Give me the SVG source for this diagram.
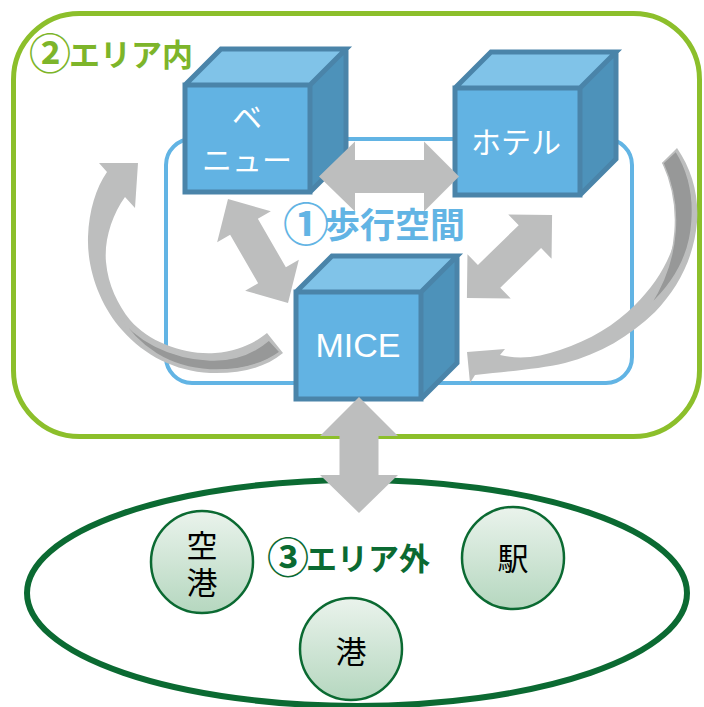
<svg xmlns="http://www.w3.org/2000/svg" width="704" height="707" viewBox="0 0 704 707">
  <style>
    .jp { font-family: "Noto Sans CJK JP", "Noto Sans", sans-serif; }
    .area-in { fill: #7DB52A; font-size: 31px; font-weight: bold; }
    .walk { fill: #62B4E4; font-size: 35px; font-weight: bold; }
    .area-out { fill: #0B6A32; font-size: 31px; font-weight: bold; }
    .box-label { fill: #FFFFFF; font-size: 30px; text-anchor: middle; }
    .mice { fill: #FFFFFF; font-family: "Liberation Sans", Arial, sans-serif; font-size: 34px; text-anchor: middle; }
    .place { fill: #000000; font-size: 31px; text-anchor: middle; }
    .place-vertical { fill: #000000; font-size: 31px; writing-mode: vertical-rl; letter-spacing: 6px; }
    .cube-front { fill: #62B3E3; }
    .cube-top { fill: #80C3E8; }
    .cube-side { fill: #4D92BA; }
    .cube-edge { fill: none; stroke: #4A84A9; stroke-width: 5; stroke-linejoin: miter; }
    .arrow { fill: #BDBEBE; }
    .arrow-back { fill: #979898; stroke: #BDBEBE; stroke-width: 1.5; }
    .place-circle { fill: url(#placeFill); stroke: #0B6A32; stroke-width: 2.5; }
  </style>
  <defs>
    <linearGradient id="placeFill" x1="0" y1="0" x2="0" y2="1">
      <stop offset="0" stop-color="#EAF3EC"/>
      <stop offset="1" stop-color="#B5D7BF"/>
    </linearGradient>
    <!-- cube drawn from the top-left corner of its front face -->
    <g id="cube">
      <rect class="cube-front" x="0" y="0" width="125" height="107"/>
      <path class="cube-top" d="M0,0 L36,-36 L161,-36 L125,0 Z"/>
      <path class="cube-side" d="M125,0 L161,-36 L161,71 L125,107 Z"/>
      <path class="cube-edge" d="M0,0 L125,0 L125,107 L0,107 Z M0,0 L36,-36 L161,-36 L125,0 M161,-36 L161,71 L125,107"/>
    </g>
  </defs>

  <!-- areas -->
  <g id="area-inside">
    <rect x="13.5" y="13.5" width="686" height="423" rx="66" ry="66" fill="none" stroke="#8CBF2B" stroke-width="5"/>
    <text class="jp area-in"><tspan x="29" y="69" font-size="42">②</tspan><tspan x="69" y="66">エリア内</tspan></text>
  </g>
  <g id="walkway">
    <rect x="166" y="139" width="466" height="244" rx="26" ry="26" fill="none" stroke="#62B4E4" stroke-width="4"/>
    <text class="jp walk"><tspan x="283" y="241" font-size="46">①</tspan><tspan x="325" y="238">歩行空間</tspan></text>
  </g>
  <g id="area-outside">
    <ellipse cx="357" cy="593" rx="330" ry="113" fill="none" stroke="#0B6A32" stroke-width="6"/>
    <text class="jp area-out"><tspan x="267" y="573" font-size="42">③</tspan><tspan x="306" y="570">エリア外</tspan></text>
  </g>

  <!-- circulation loops -->
  <g id="loops">
    <path class="arrow" d="M138,163 L135,208 L125,197 C112,215 104,240 106,262 C108,285 118,305 130,320 C150,343 185,355 215,353 C238,351 255,343 267,333 L283,353 C265,368 240,374 210,373 C175,371 145,356 122,330 C100,305 87,270 88,237 C89,210 96,188 107,172 L99,163 Z"/>
    <path class="arrow-back" d="M118,314 C135,340 170,358 210,360 C235,361 255,352 269,340 L280,352 C262,365 238,371 210,370 C170,368 138,348 118,314 Z"/>
    <path class="arrow" d="M467,352 L505,349 L500,355 C520,360 540,357 560,350 C590,340 615,325 635,305 C655,285 670,262 676,235 C680,212 676,185 662,163 L677,148 C692,170 699,195 697,222 C694,258 678,288 655,312 C630,336 600,354 565,363 C540,369 510,371 475,375 L470,383 Z"/>
    <path class="arrow-back" d="M663,163 L676,151 C689,172 694,197 692,222 C690,252 677,280 650,305 C665,282 673,258 675,232 C677,208 673,185 663,163 Z"/>
  </g>

  <!-- facilities -->
  <g id="venue">
    <use href="#cube" transform="translate(185,85)"/>
    <text class="jp box-label"><tspan x="247" y="128">ベ</tspan><tspan x="247" y="171">ニュー</tspan></text>
  </g>
  <g id="hotel">
    <use href="#cube" transform="translate(455,88)"/>
    <text class="jp box-label" x="516" y="153">ホテル</text>
  </g>
  <g id="mice">
    <use href="#cube" transform="translate(296,292)"/>
    <text class="mice" x="358" y="357">MICE</text>
  </g>

  <!-- links between facilities -->
  <g id="connectors">
    <polygon class="arrow" points="319,176.5 355,141.5 355,160 424,160 424,141.5 459,176.5 424,211.5 424,193 355,193 355,211.5"/>
    <polygon class="arrow" transform="translate(258,251) rotate(60)" points="-60,0 -28,-31 -28,-16 28,-16 28,-31 60,0 28,31 28,16 -28,16 -28,31"/>
    <polygon class="arrow" transform="translate(509.5,256.5) rotate(-44.3)" points="-59.5,0 -28.5,-31 -28.5,-16 28.5,-16 28.5,-31 59.5,0 28.5,31 28.5,16 -28.5,16 -28.5,31"/>
    <polygon class="arrow" points="359,397 398,436 378.5,436 378.5,475 398,475 359,513 320,475 339.5,475 339.5,436 320,436"/>
  </g>

  <!-- outside destinations -->
  <g id="airport">
    <circle class="place-circle" cx="202" cy="562" r="51"/>
    <text class="jp place-vertical" x="202" y="529.5">空港</text>
  </g>
  <g id="station">
    <circle class="place-circle" cx="513" cy="558" r="51"/>
    <text class="jp place" x="513" y="570">駅</text>
  </g>
  <g id="port">
    <circle class="place-circle" cx="351" cy="649" r="51"/>
    <text class="jp place" x="351" y="663">港</text>
  </g>
</svg>
